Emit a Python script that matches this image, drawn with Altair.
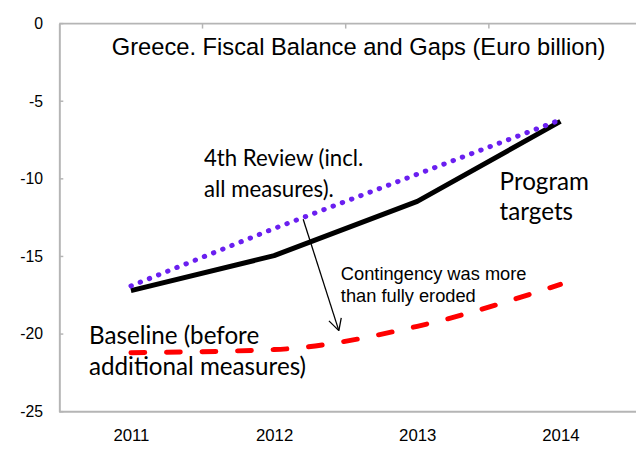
import altair as alt
import pandas as pd

# ---- data ----
years = [2011, 2012, 2013, 2014]
program_targets = [-17.2, -14.95, -11.45, -6.3]
fourth_review = [-16.9, -13.2, -9.7, -6.2]
baseline = [-21.2, -21.0, -19.5, -16.8]

y_ticks = [-25, -20, -15, -10, -5, 0]
x_boundaries = [2011.5, 2012.5, 2013.5]

title_text = ["Greece. Fiscal Balance and Gaps (Euro billion)"]
title_x = [2012.59]
title_y = [-1.6]

review_texts = ["4th Review (incl.", "all measures)."]
review_x = [2011.51, 2011.51]
review_y = [-8.71, -10.75]

side_texts = ["Program", "targets", "Baseline (before", "additional measures)"]
side_x = [2013.575, 2013.575, 2010.707, 2010.707]
side_y = [-10.3, -12.2, -20.17, -22.2]

note_texts = ["Contingency was more", "than fully eroded"]
note_x = [2012.466, 2012.466]
note_y = [-16.16, -17.56]

# arrow: shaft and two head arms, each ending at the tip
arrow_from_x = [2012.203, 2012.469, 2012.383]
arrow_from_y = [-12.6, -18.96, -19.15]
arrow_tip_x = [2012.452, 2012.452, 2012.452]
arrow_tip_y = [-19.78, -19.78, -19.78]

# ---- build ----
GRAY = "#b5b5b5"
xs = alt.Scale(domain=[2010.5, 2014.5], nice=False, zero=False)
ys = alt.Scale(domain=[-25, 0], nice=False, zero=False)

x_axis = alt.Axis(values=years, format="d", title=None, ticks=False, domain=False,
                  grid=False, labelFont="Liberation Sans", labelFontSize=17,
                  labelColor="#000000", labelPadding=16)
y_axis = alt.Axis(values=y_ticks, title=None, ticks=False, domain=True, domainColor=GRAY,
                  domainWidth=2, grid=False, labelFont="Liberation Sans", labelFontSize=16,
                  labelColor="#000000", labelPadding=17,
                  labelExpr="toString(datum.value)")

X = alt.X("x:Q", scale=xs, axis=x_axis)
Y = alt.Y("y:Q", scale=ys, axis=y_axis)


def series_df(vals):
    return pd.DataFrame({"x": years, "y": vals})


black = alt.Chart(series_df(program_targets)).mark_line(
    color="#000000", strokeWidth=5, strokeJoin="round"
).encode(x=X, y=Y)

purple = alt.Chart(series_df(fourth_review)).mark_line(
    color="#6a1ff0", strokeWidth=5, strokeDash=[0.5, 9.5], strokeCap="round"
).encode(x=X, y=Y)

red = alt.Chart(series_df(baseline)).mark_line(
    color="#ff0000", strokeWidth=5, strokeDash=[14, 22], strokeCap="round",
    interpolate="monotone"
).encode(x=X, y=Y)

frame_df = pd.DataFrame({"k": [0]})
top_line = alt.Chart(frame_df).mark_rule(color=GRAY, strokeWidth=2).encode(
    x=alt.value(0), x2=alt.value(584), y=alt.value(0))
bottom_line = alt.Chart(frame_df).mark_rule(color=GRAY, strokeWidth=2).encode(
    x=alt.value(0), x2=alt.value(584), y=alt.value(393))

top_ticks = alt.Chart(pd.DataFrame({"x": x_boundaries})).mark_rule(
    color=GRAY, strokeWidth=1.5).encode(x=X, y=alt.value(0), y2=alt.value(5))

left_ticks = alt.Chart(pd.DataFrame({"y": y_ticks})).mark_rule(
    color=GRAY, strokeWidth=1.5).encode(y=Y, x=alt.value(0), x2=alt.value(4))

arrow_df = pd.DataFrame({"x": arrow_from_x, "y": arrow_from_y,
                         "x2": arrow_tip_x, "y2": arrow_tip_y})
arrow = alt.Chart(arrow_df).mark_rule(color="#000000", strokeWidth=1.3).encode(
    x=X, y=Y, x2="x2:Q", y2="y2:Q")

title = alt.Chart(pd.DataFrame({"x": title_x, "y": title_y, "t": title_text})).mark_text(
    font="Liberation Sans", fontSize=24, color="#000000", align="center", baseline="middle"
).encode(x=X, y=Y, text="t:N")

review = alt.Chart(pd.DataFrame({"x": review_x, "y": review_y, "t": review_texts})).mark_text(
    font="Lato", fontSize=22.5, color="#000000", align="left", baseline="middle"
).encode(x=X, y=Y, text="t:N")

side = alt.Chart(pd.DataFrame({"x": side_x, "y": side_y, "t": side_texts})).mark_text(
    font="Lato", fontSize=24.5, color="#000000", align="left", baseline="middle"
).encode(x=X, y=Y, text="t:N")

notes = alt.Chart(pd.DataFrame({"x": note_x, "y": note_y, "t": note_texts})).mark_text(
    font="Liberation Sans", fontSize=18.5, color="#000000", align="left", baseline="middle"
).encode(x=X, y=Y, text="t:N")

chart = alt.layer(
    black, top_line, bottom_line, top_ticks, left_ticks, purple, red, arrow,
    title, review, side, notes
).properties(
    width=580, height=393,
    padding={"left": 52, "top": 13, "right": 4, "bottom": 36},
    autosize=alt.AutoSizeParams(type="none"),
).configure_view(stroke=None)

chart.save("out.html", embed_options={"renderer": "svg", "actions": False})
